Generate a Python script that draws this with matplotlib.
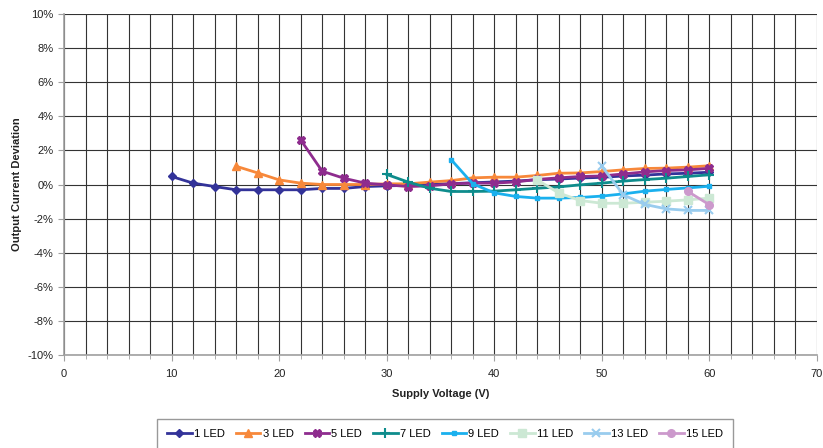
import matplotlib
matplotlib.use("Agg")
import matplotlib.pyplot as plt
from matplotlib.ticker import MultipleLocator, FuncFormatter

plt.rcParams['font.family'] = ['Liberation Sans', 'DejaVu Sans']

# Data (supply voltage in V, deviation in %)
v1 = [10, 12, 14, 16, 18, 20, 22, 24, 26, 28, 30, 32, 34, 36, 38, 40, 42, 44, 46, 48, 50, 52, 54, 56, 58, 60]
d1 = [0.47, 0.08, -0.12, -0.31, -0.31, -0.31, -0.31, -0.23, -0.23, -0.12, -0.08, -0.05, 0.0, 0.05, 0.1, 0.15, 0.2, 0.28, 0.32, 0.38, 0.42, 0.5, 0.55, 0.62, 0.66, 0.72]

v3 = [16, 18, 20, 22, 24, 26, 28, 30, 32, 34, 36, 38, 40, 42, 44, 46, 48, 50, 52, 54, 56, 58, 60]
d3 = [1.07, 0.68, 0.27, 0.08, 0.0, 0.0, 0.0, 0.04, 0.04, 0.14, 0.23, 0.39, 0.43, 0.43, 0.53, 0.66, 0.68, 0.76, 0.86, 0.94, 0.96, 1.02, 1.1]

v5 = [22, 24, 26, 28, 30, 32, 34, 36, 38, 40, 42, 44, 46, 48, 50, 52, 54, 56, 58, 60]
d5 = [2.62, 0.78, 0.37, 0.08, -0.02, -0.12, -0.08, 0.04, 0.08, 0.08, 0.15, 0.3, 0.39, 0.47, 0.5, 0.62, 0.74, 0.82, 0.86, 0.95]

v7 = [30, 32, 34, 36, 38, 40, 42, 44, 46, 48, 50, 52, 54, 56, 58, 60]
d7 = [0.59, 0.14, -0.22, -0.41, -0.41, -0.39, -0.31, -0.22, -0.14, -0.02, 0.08, 0.2, 0.29, 0.37, 0.47, 0.57]

v9 = [36, 38, 40, 42, 44, 46, 48, 50, 52, 54, 56, 58, 60]
d9 = [1.45, 0.04, -0.49, -0.7, -0.8, -0.8, -0.76, -0.68, -0.55, -0.39, -0.29, -0.2, -0.1]

v11 = [44, 46, 48, 50, 52, 54, 56, 58, 60]
d11 = [0.27, -0.5, -0.94, -1.1, -1.1, -1.04, -0.98, -0.9, -0.8]

v13 = [50, 52, 54, 56, 58, 60]
d13 = [1.07, -0.61, -1.17, -1.43, -1.52, -1.52]

v15 = [58, 60]
d15 = [-0.41, -1.19]

series = [
    ("1 LED", v1, d1, "#333399", "D", 4.5),
    ("3 LED", v3, d3, "#F7883A", "^", 5.5),
    ("5 LED", v5, d5, "#8E2C8E", "X", 5.5),
    ("7 LED", v7, d7, "#0E8C8C", "+", 7),
    ("9 LED", v9, d9, "#1AB0EE", "s", 3),
    ("11 LED", v11, d11, "#CCE8D4", "s", 5.5),
    ("13 LED", v13, d13, "#99CCEE", "x", 6),
    ("15 LED", v15, d15, "#CC99CC", "o", 5.5),
]

fig = plt.figure(figsize=(8.23, 4.48), dpi=100)
ax = fig.add_axes([64/823, 1-355/448, (817-64)/823, (355-14)/448])

for name, xs, ys, col, mk, ms in series:
    ax.plot(xs, ys, color=col, lw=2, marker=mk, markersize=ms,
            markeredgewidth=1.5 if mk in ("+", "x") else 1,
            markeredgecolor=col, markerfacecolor=col, label=name, zorder=3)

ax.set_xlim(0, 70)
ax.set_ylim(-10, 10)
ax.xaxis.set_major_locator(MultipleLocator(10))
ax.xaxis.set_minor_locator(MultipleLocator(2))
ax.yaxis.set_major_locator(MultipleLocator(2))
ax.yaxis.set_major_formatter(FuncFormatter(lambda v, p: f"{v:.0f}%"))
ax.grid(True, which='both', axis='x', color='#333333', lw=0.8, zorder=0)
ax.grid(True, which='major', axis='y', color='#333333', lw=0.8, zorder=0)
ax.set_axisbelow(True)

for s in ('top', 'right'):
    ax.spines[s].set_visible(False)
for s in ('left', 'bottom'):
    ax.spines[s].set_color('#A0A0A0')
    ax.spines[s].set_linewidth(1.2)

ax.tick_params(axis='both', which='major', labelsize=8, colors='#A0A0A0', labelcolor='#222222', length=4)
ax.tick_params(axis='x', which='minor', colors='#A0A0A0', length=3)
ax.tick_params(axis='x', pad=6)

ax.set_xlabel("Supply Voltage (V)", fontsize=8, fontweight='bold', labelpad=7, color='#222222')
ax.set_ylabel("Output Current Deviation", fontsize=8, fontweight='bold', labelpad=4, color='#222222')

leg = fig.legend(loc='upper center', bbox_to_anchor=(445/823, 1-413/448), ncol=8,
                 fontsize=8, frameon=True, fancybox=False, handlelength=2.2,
                 handletextpad=0.2, columnspacing=1.0, borderpad=0.9)
leg.get_frame().set_edgecolor('#808080')
leg.get_frame().set_linewidth(1)

fig.savefig("out.png", dpi=100)
